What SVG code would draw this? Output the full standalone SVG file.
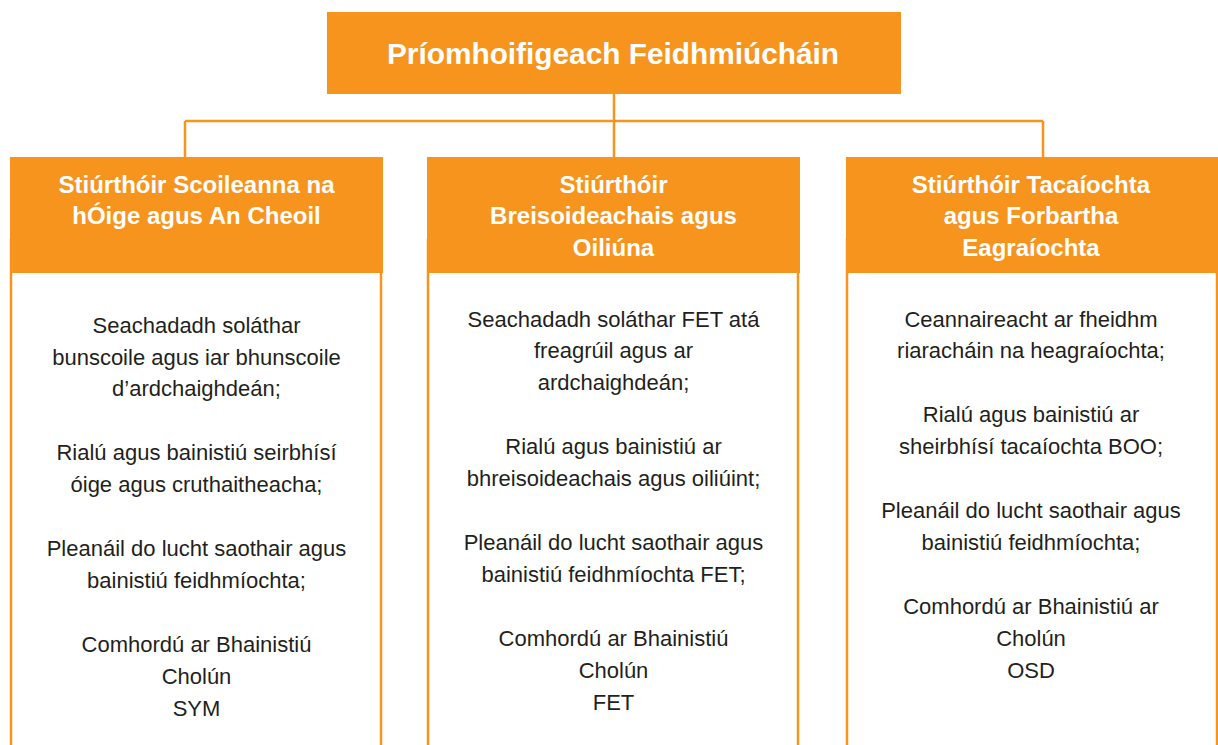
<svg xmlns="http://www.w3.org/2000/svg" width="1218" height="745" viewBox="0 0 1218 745">
<style>
.hdr{fill:#F7941D}
.body{fill:#fff;stroke:#F7941D;stroke-width:2.5}
.conn{fill:none;stroke:#F7941D;stroke-width:2.5}
.ht{font-family:"Liberation Sans",Arial,sans-serif;font-weight:bold;font-size:24px;fill:#fff;text-anchor:middle}
.tt{font-family:"Liberation Sans",Arial,sans-serif;font-weight:bold;font-size:29.8px;fill:#fff;text-anchor:middle}
.bt{font-family:"Liberation Sans",Arial,sans-serif;font-size:22px;fill:#231F20;text-anchor:middle}
</style>
<rect width="1218" height="745" fill="#fff"/>
<g id="connectors">
<path class="conn" d="M614 94V157M185 121H1043M185 121V157M1043 121V157"/>
</g>
<g id="ceo">
<rect class="hdr" x="327" y="12" width="574" height="82"/>
<text class="tt" x="613" y="64">Príomhoifigeach Feidhmiúcháin</text>
</g>
<g id="director-schools">
<rect class="body" x="11" y="240" width="370" height="560"/>
<rect class="hdr" x="10" y="157" width="373" height="116"/>
<text class="ht" x="196.5" y="193">Stiúrthóir Scoileanna na</text>
<text class="ht" x="196.5" y="224">hÓige agus An Cheoil</text>
<text class="bt" x="196.5" y="333">Seachadadh soláthar</text>
<text class="bt" x="196.5" y="365">bunscoile agus iar bhunscoile</text>
<text class="bt" x="196.5" y="396">d’ardchaighdeán;</text>
<text class="bt" x="196.5" y="460">Rialú agus bainistiú seirbhísí</text>
<text class="bt" x="196.5" y="492">óige agus cruthaitheacha;</text>
<text class="bt" x="196.5" y="556">Pleanáil do lucht saothair agus</text>
<text class="bt" x="196.5" y="588">bainistiú feidhmíochta;</text>
<text class="bt" x="196.5" y="652">Comhordú ar Bhainistiú</text>
<text class="bt" x="196.5" y="684">Cholún</text>
<text class="bt" x="196.5" y="716">SYM</text>
</g>
<g id="director-fet">
<rect class="body" x="428" y="240" width="370" height="560"/>
<rect class="hdr" x="427" y="157" width="373" height="116"/>
<text class="ht" x="613.5" y="193">Stiúrthóir</text>
<text class="ht" x="613.5" y="224">Breisoideachais agus</text>
<text class="ht" x="613.5" y="256">Oiliúna</text>
<text class="bt" x="613.5" y="327">Seachadadh soláthar FET atá</text>
<text class="bt" x="613.5" y="358">freagrúil agus ar</text>
<text class="bt" x="613.5" y="390">ardchaighdeán;</text>
<text class="bt" x="613.5" y="454">Rialú agus bainistiú ar</text>
<text class="bt" x="613.5" y="486">bhreisoideachais agus oiliúint;</text>
<text class="bt" x="613.5" y="550">Pleanáil do lucht saothair agus</text>
<text class="bt" x="613.5" y="582">bainistiú feidhmíochta FET;</text>
<text class="bt" x="613.5" y="646">Comhordú ar Bhainistiú</text>
<text class="bt" x="613.5" y="678">Cholún</text>
<text class="bt" x="613.5" y="710">FET</text>
</g>
<g id="director-support">
<rect class="body" x="847" y="240" width="370" height="560"/>
<rect class="hdr" x="846" y="157" width="372" height="116"/>
<text class="ht" x="1031" y="193">Stiúrthóir Tacaíochta</text>
<text class="ht" x="1031" y="224">agus Forbartha</text>
<text class="ht" x="1031" y="256">Eagraíochta</text>
<text class="bt" x="1031" y="327">Ceannaireacht ar fheidhm</text>
<text class="bt" x="1031" y="358">riaracháin na heagraíochta;</text>
<text class="bt" x="1031" y="422">Rialú agus bainistiú ar</text>
<text class="bt" x="1031" y="454">sheirbhísí tacaíochta BOO;</text>
<text class="bt" x="1031" y="518">Pleanáil do lucht saothair agus</text>
<text class="bt" x="1031" y="550">bainistiú feidhmíochta;</text>
<text class="bt" x="1031" y="614">Comhordú ar Bhainistiú ar</text>
<text class="bt" x="1031" y="646">Cholún</text>
<text class="bt" x="1031" y="678">OSD</text>
</g>
</svg>
